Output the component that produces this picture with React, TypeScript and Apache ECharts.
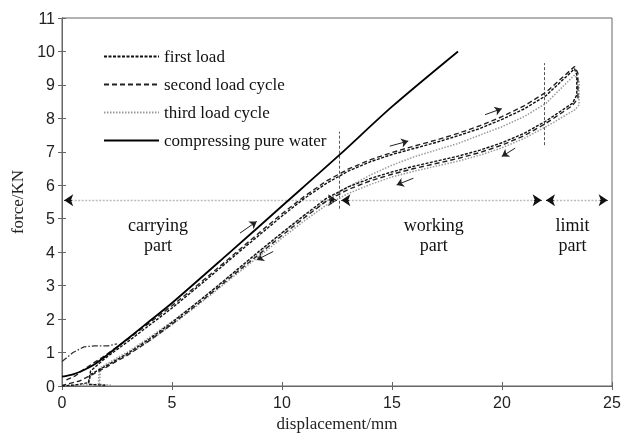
import React, { useEffect, useRef } from "react";
import * as echarts from "echarts";

const xTicks = [0, 5, 10, 15, 20, 25];
const yTicks = [0, 1, 2, 3, 4, 5, 6, 7, 8, 9, 10, 11];

const waterCurve = [
  [0, 0.28], [0.5, 0.35], [1, 0.48], [1.5, 0.66], [2, 0.9], [3, 1.42], [4, 1.95], [5, 2.48],
  [7.5, 3.92], [10, 5.38], [12.6, 6.9], [15, 8.35], [18, 10],
];

const firstLoad = [
  [0, 0], [0.6, 0.03], [1.2, 0.1], [1.3, 0.45], [2, 0.85], [3, 1.33], [4, 1.83], [5, 2.33],
  [6, 2.87], [7, 3.42], [8, 3.98], [9, 4.53], [10, 5.08], [11, 5.6], [12, 6.05], [13, 6.42],
  [14, 6.7], [15, 6.92], [16, 7.1], [17, 7.28], [18, 7.48], [19, 7.7], [20, 7.97], [21, 8.28],
  [22, 8.68], [23.3, 9.48], [23.4, 9.3], [23.4, 8.7], [23.2, 8.45], [22, 7.92], [21, 7.55],
  [20, 7.27], [19, 7.05], [18, 6.87], [17, 6.72], [16, 6.57], [15, 6.4], [14, 6.2], [13, 5.95],
  [12, 5.6], [11, 5.1], [10, 4.58], [9, 4.05], [8, 3.5], [7, 2.95], [6, 2.42], [5, 1.9],
  [4, 1.42], [3, 0.98], [2, 0.6], [1.3, 0.35], [1.2, 0.05], [2, 0.02],
];

const secondCycle = [
  [0.2, 0.18], [0.6, 0.3], [1, 0.5], [2, 0.93], [3, 1.4], [4, 1.9], [5, 2.4], [6, 2.93],
  [7, 3.48], [8, 4.04], [9, 4.6], [10, 5.15], [11, 5.66], [12, 6.12], [13, 6.48], [14, 6.76],
  [15, 6.98], [16, 7.17], [17, 7.35], [18, 7.55], [19, 7.78], [20, 8.05], [21, 8.37], [22, 8.78],
  [23.3, 9.55], [23.45, 9.35], [23.45, 8.6], [23.2, 8.38], [22, 7.85], [21, 7.48], [20, 7.2],
  [19, 6.98], [18, 6.8], [17, 6.65], [16, 6.5], [15, 6.33], [14, 6.13], [13, 5.87], [12, 5.52],
  [11, 5.02], [10, 4.5], [9, 3.96], [8, 3.43], [7, 2.89], [6, 2.36], [5, 1.85], [4, 1.37],
  [3, 0.93], [2, 0.56], [1.4, 0.35], [0.8, 0.15], [0.2, 0.05], [0, 0.02],
];

const thirdCycle = [
  [0, 0.02], [1, 0.03], [1.65, 0.05], [1.7, 0.53], [2.5, 0.84], [3, 1.02], [4, 1.46], [5, 1.93],
  [6, 2.42], [7, 2.95], [8, 3.48], [9, 4.02], [10, 4.57], [11, 5.08], [12, 5.52], [13, 5.95],
  [14, 6.3], [15, 6.6], [16, 6.85], [17, 7.05], [18, 7.25], [19, 7.5], [20, 7.75], [21, 8.05],
  [22, 8.45], [23.3, 9.3], [23.5, 9.1], [23.5, 8.4], [23.3, 8.25], [22, 7.75], [21, 7.4],
  [20, 7.12], [19, 6.9], [18, 6.72], [17, 6.57], [16, 6.42], [15, 6.25], [14, 6.02], [13, 5.75],
  [12, 5.4], [11, 4.93], [10, 4.42], [9, 3.9], [8, 3.38], [7, 2.85], [6, 2.33], [5, 1.83],
  [4, 1.36], [3, 0.95], [2, 0.62], [1.75, 0.5], [1.7, 0.05], [2.3, 0.02],
];

const preloadCurve = [[0, 0.73], [0.5, 1.0], [1, 1.17], [1.5, 1.2], [2.1, 1.2], [2.5, 1.26]];

const dividerLines = [
  [[12.6, 5.3], [12.6, 7.6]],
  [[21.9, 7.2], [21.9, 9.65]],
];

const regionY = 5.55;
const regionSpans = [
  [0.1, 12.5],
  [12.7, 21.8],
  [22.0, 24.8],
];

const directionArrows = [
  [[8.09, 4.57], [8.85, 4.92]],
  [[9.6, 4.02], [8.85, 3.77]],
  [[14.9, 7.17], [15.74, 7.32]],
  [[19.23, 8.11], [19.99, 8.29]],
  [[20.6, 7.11], [19.99, 6.86]],
  [[15.97, 6.21], [15.21, 6.01]],
];

const regionLabels = [
  { name: "carrying\npart", x: 4.36, y: 4.5 },
  { name: "working\npart", x: 16.9, y: 4.5 },
  { name: "limit\npart", x: 23.2, y: 4.5 },
];

const legendNames = ["first load", "second load cycle", "third load cycle", "compressing pure water"];

export default function App() {
  const ref = useRef<HTMLDivElement>(null);
  useEffect(() => {
    if (!ref.current) return;
    const chart = echarts.init(ref.current, null, { renderer: "svg" });
    const serif = "Liberation Serif";
    const sans = "Liberation Sans";
    const axisColor = "#666";

    const arrowEnds: any[] = [];
    regionSpans.forEach(([a, b]) => {
      arrowEnds.push({ coords: [[a + 0.35, regionY], [a, regionY]] });
      arrowEnds.push({ coords: [[b - 0.35, regionY], [b, regionY]] });
    });

    chart.setOption({
      animation: false,
      grid: {
        left: 62, right: 10, top: 18, bottom: 50, show: true, borderColor: axisColor, borderWidth: 1,
        outerBoundsMode: "none", containLabel: false,
      },
      legend: {
        data: legendNames,
        orient: "vertical",
        left: 98,
        top: 43,
        itemWidth: 55,
        itemHeight: 14,
        itemGap: 11,
        itemStyle: { opacity: 0 },
        textStyle: { fontFamily: serif, fontSize: 17, color: "#111" },
      },
      xAxis: [
        {
          type: "value", min: 0, max: 25, interval: 5,
          name: "displacement/mm", nameLocation: "middle", nameGap: 25,
          nameTextStyle: { fontFamily: serif, fontSize: 17, color: "#222" },
          axisLine: { show: true, lineStyle: { color: axisColor } },
          axisTick: { show: true, inside: true, length: 4, lineStyle: { color: axisColor } },
          axisLabel: { fontFamily: sans, fontSize: 16, color: "#222", margin: 8,
            formatter: (v: number) => (xTicks.includes(v) ? String(v) : "") },
          splitLine: { show: false },
        },
        {
          type: "value", min: 0, max: 25, interval: 5, position: "top",
          axisLine: { show: true, lineStyle: { color: axisColor } },
          axisTick: { show: true, inside: true, length: 4, lineStyle: { color: axisColor } },
          axisLabel: { show: false }, splitLine: { show: false },
        },
      ],
      yAxis: [
        {
          type: "value", min: 0, max: 11, interval: 1,
          name: "force/KN", nameLocation: "middle", nameGap: 29,
          nameTextStyle: { fontFamily: serif, fontSize: 17, color: "#222" },
          axisLine: { show: true, lineStyle: { color: axisColor } },
          axisTick: { show: true, inside: true, length: 4, lineStyle: { color: axisColor } },
          axisLabel: { fontFamily: sans, fontSize: 16, color: "#222", margin: 7,
            formatter: (v: number) => (yTicks.includes(v) ? String(v) : "") },
          splitLine: { show: false },
        },
        {
          type: "value", min: 0, max: 11, interval: 1, position: "right",
          axisLine: { show: true, lineStyle: { color: axisColor } },
          axisTick: { show: true, inside: true, length: 4, lineStyle: { color: axisColor } },
          axisLabel: { show: false }, splitLine: { show: false },
        },
      ],
      series: [
        {
          name: "third load cycle", type: "line", data: thirdCycle, symbol: "none",
          lineStyle: { color: "#9a9a9a", width: 1.5, type: [1.5, 1.5] }, itemStyle: { color: "#9a9a9a" },
        },
        {
          name: "second load cycle", type: "line", data: secondCycle, symbol: "none",
          lineStyle: { color: "#222", width: 1.4, type: [5, 3] }, itemStyle: { color: "#222" },
        },
        {
          name: "first load", type: "line", data: firstLoad, symbol: "none",
          lineStyle: { color: "#111", width: 1.4, type: [3, 1.5] }, itemStyle: { color: "#111" },
        },
        {
          name: "preload", type: "line", data: preloadCurve, symbol: "none",
          lineStyle: { color: "#333", width: 1.3, type: [6, 2, 1.5, 2] },
        },
        {
          name: "compressing pure water", type: "line", data: waterCurve, symbol: "none", smooth: 0.3,
          lineStyle: { color: "#000", width: 1.8, type: "solid" }, itemStyle: { color: "#000" },
        },
        {
          name: "dividers", type: "lines", coordinateSystem: "cartesian2d", symbol: ["none", "none"],
          lineStyle: { color: "#555", width: 1, type: [3, 2], opacity: 1 },
          data: dividerLines.map((c) => ({ coords: c })),
        },
        {
          name: "regions", type: "lines", coordinateSystem: "cartesian2d", symbol: ["none", "none"],
          lineStyle: { color: "#bbb", width: 1.3, type: [2, 1.5], opacity: 1 },
          data: regionSpans.map(([a, b]) => ({ coords: [[a, regionY], [b, regionY]] })),
        },
        {
          name: "regionArrows", type: "lines", coordinateSystem: "cartesian2d",
          symbol: ["none", "arrow"], symbolSize: 9,
          lineStyle: { color: "#111", width: 1, opacity: 1 },
          data: arrowEnds,
        },
        {
          name: "dirArrows", type: "lines", coordinateSystem: "cartesian2d",
          symbol: ["none", "arrow"], symbolSize: 7,
          lineStyle: { color: "#222", width: 1, opacity: 1 },
          data: directionArrows.map((c) => ({ coords: c })),
        },
        {
          name: "labels", type: "scatter", symbolSize: 1,
          itemStyle: { color: "rgba(0,0,0,0)", opacity: 1 },
          data: regionLabels.map((l) => ({ value: [l.x, l.y], name: l.name })),
          label: {
            show: true, position: "inside", formatter: (p: any) => p.name,
            fontFamily: serif, fontSize: 18, lineHeight: 20, color: "#111", align: "center",
            textBorderWidth: 0,
          },
          silent: true,
        },
      ],
    });
    return () => chart.dispose();
  }, []);
  return <div ref={ref} style={{ position: "fixed", left: 0, top: 0, width: 622, height: 436 }} />;
}
